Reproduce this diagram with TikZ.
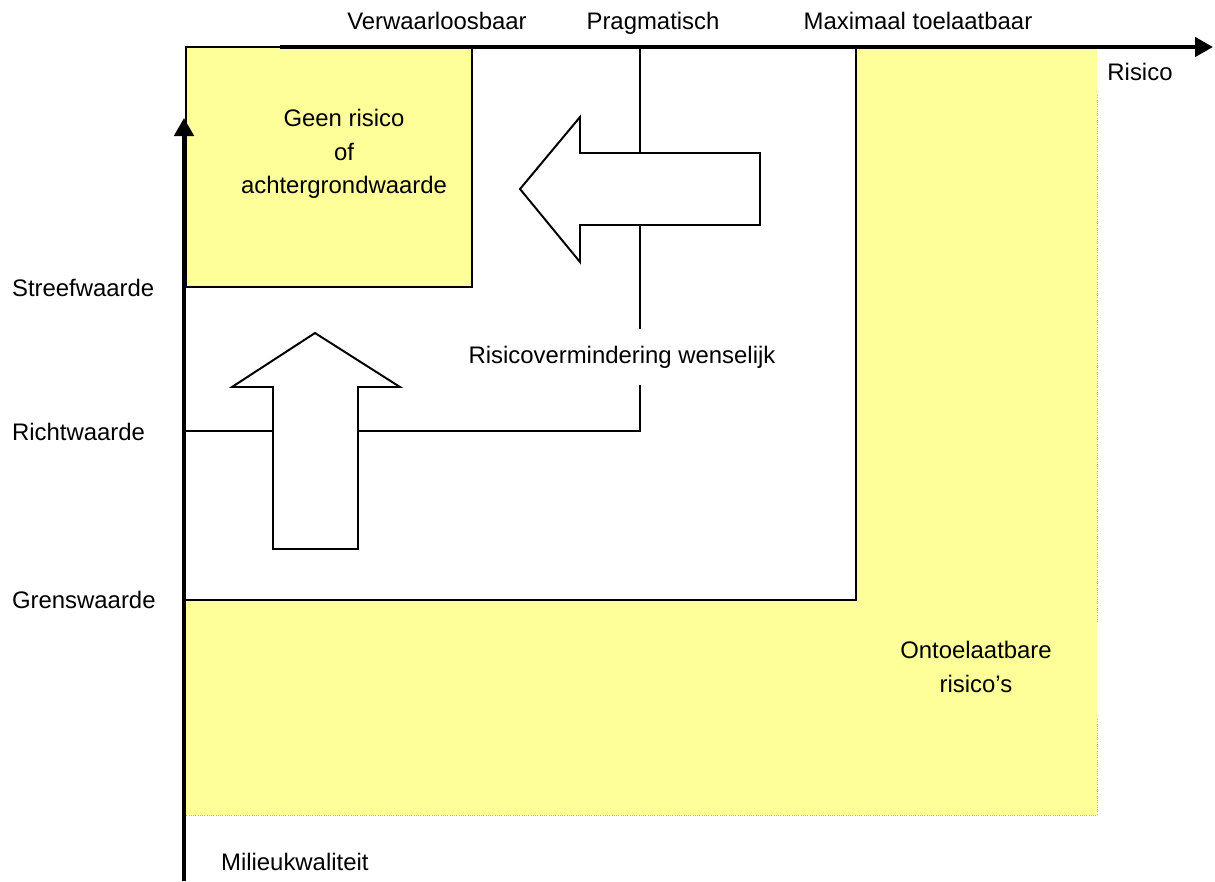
\documentclass[tikz,border=0pt]{standalone}
\usepackage{fontspec}
\setmainfont{Liberation Sans}
\usetikzlibrary{arrows.meta,positioning}
\definecolor{riskyellow}{HTML}{FFFF99}

\tikzset{
  axis/.style={line width=2.9pt,-{Triangle[length=0.45cm,width=0.48cm]}},
  border/.style={line width=1.4pt},
  lbl/.style={font=\fontsize{17}{24}\selectfont, inner sep=2pt, align=center},
  bigarrow/.style={draw, line width=1.4pt, fill=white, line join=miter}
}

\begin{document}
\begin{tikzpicture}[x=0.025cm,y=-0.025cm]
    \useasboundingbox (0,0) rectangle (1215,881);

    % regions
    \fill[riskyellow] (186,47) rectangle (1097,815);
    \draw[gray!60, densely dotted, line width=0.6pt] (1097,95) -- (1097,622);
    \draw[gray!60, densely dotted, line width=0.6pt] (1097,719) -- (1097,815) -- (186,815);

    \fill[white] (186,47) rectangle (856,600);
    \draw[border] (186,600) -- (856,600) -- (856,47);
    \draw[border, fill=riskyellow] (186,47) rectangle (472,287);

    % pragmatisch / richtwaarde line
    \draw[border] (640,47) -- (640,431) -- (186,431);

    % arrows
    \draw[bigarrow] (520,189) -- (580,117) -- (580,153) -- (760,153) -- (760,225)
        -- (580,225) -- (580,262) -- cycle;
    \draw[bigarrow] (315,333) -- (400,387) -- (358,387) -- (358,549) -- (273,549)
        -- (273,387) -- (232,387) -- cycle;

    % labels
    \node[lbl, anchor=base] (verw) at (437,29) {Verwaarloosbaar};
    \node[lbl, anchor=base] (prag) at (653,29) {Pragmatisch};
    \node[lbl, anchor=base] (maxt) at (918,29) {Maximaal toelaatbaar};
    \node[lbl] (risico) at (1140,72) {Risico};

    \node[lbl, anchor=west] (streef) at (9,288) {Streefwaarde};
    \node[lbl, anchor=west] (richt) at (9,432) {Richtwaarde};
    \node[lbl, anchor=west] (grens) at (9,600) {Grenswaarde};
    \node[lbl, anchor=west] (milieu) at (218,862) {Milieukwaliteit};

    \node[lbl] (geen) at (344,154) {Geen risico\\of\\achtergrondwaarde};
    \node[lbl, fill=white, inner ysep=12pt] (wenselijk) at (622,357) {Risicovermindering wenselijk};
    \node[lbl] (ontoel) at (976,667) {Ontoelaatbare\\risico’s};

    % axes
    \draw[axis] (184,881) -- (184,118);
    \draw[axis] (280,47) -- (1213,47);
\end{tikzpicture}
\end{document}
